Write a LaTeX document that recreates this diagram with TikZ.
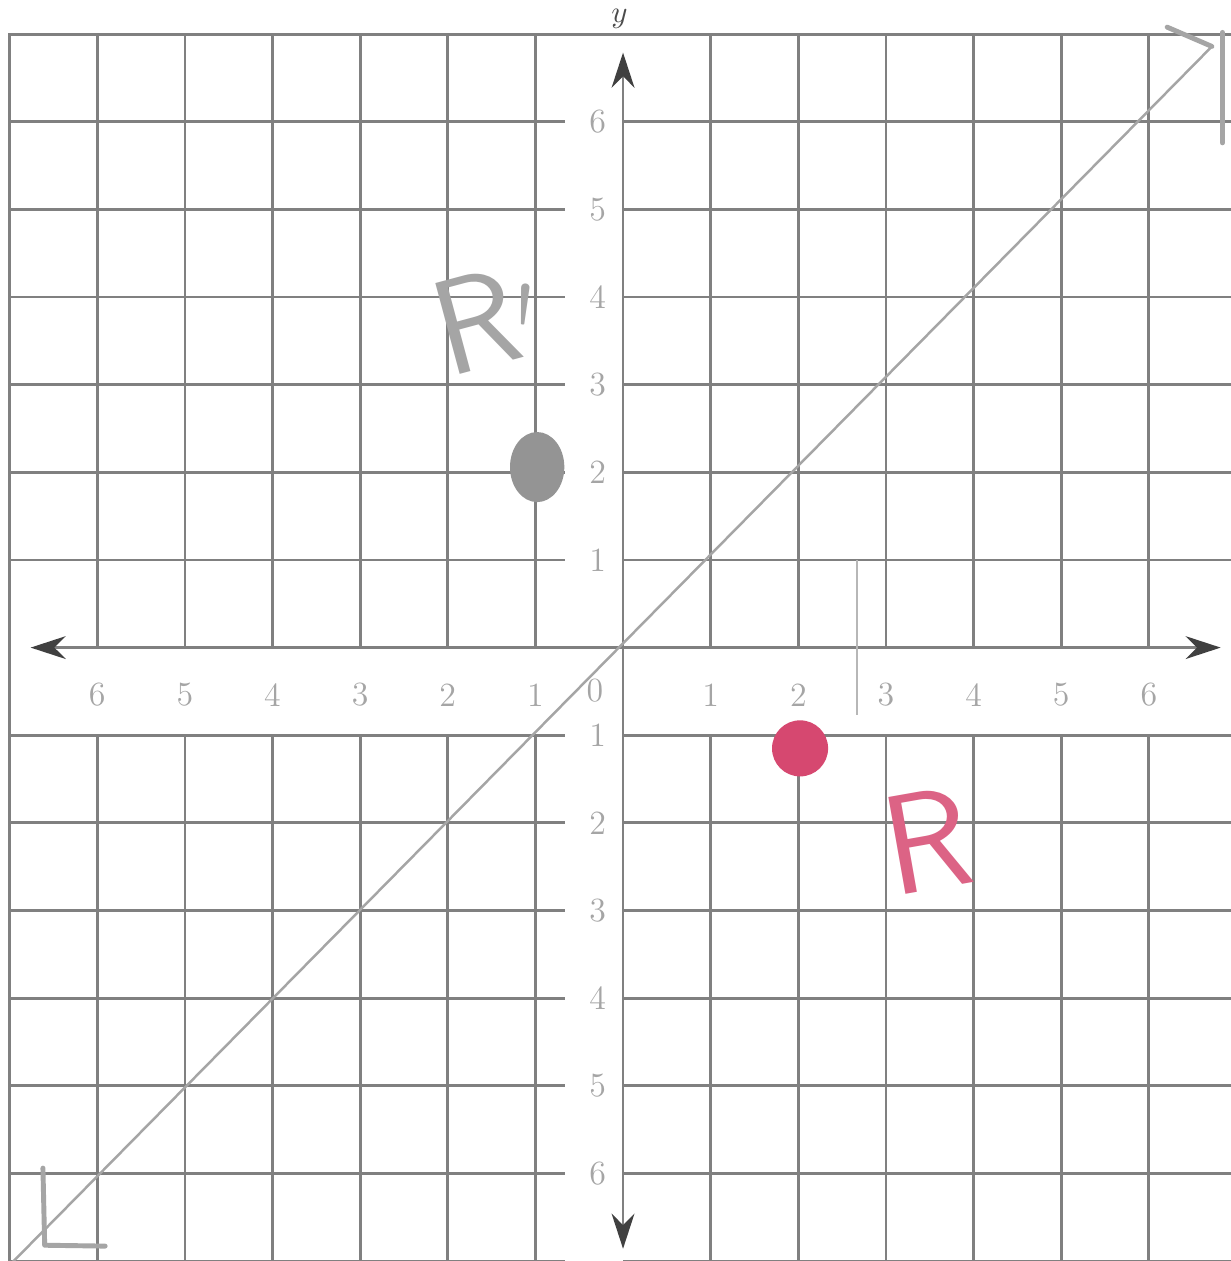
\documentclass[tikz,border=0pt]{standalone}
\usepackage{amsmath, amssymb}
\usepackage[dvipsnames]{xcolor}
\usepackage{tikz}
\usetikzlibrary{arrows.meta}

\definecolor{GridGray}{RGB}{128,128,128}
\definecolor{PencilGray}{RGB}{165,165,165}
\definecolor{InkRed}{RGB}{214,72,112}

\tikzset{
    gridline/.style={GridGray, line width=0.9pt},
    pencil/.style={PencilGray, line width=1.6pt, line cap=round, line join=round},
    ticklabel/.style={text=PencilGray, font=\fontsize{11}{13}\selectfont, inner sep=0pt},
    axistip/.style={-{Stealth[length=4mm, width=2.6mm, color=black!75]}}
}

\begin{document}
\begin{tikzpicture}
            \useasboundingbox (-7.11,-7.0) rectangle (6.93,7.39);
            \fill[white] (-7.11,-7.0) rectangle (6.93,7.39);

            % grid, with the bands for the numbers left open
            \foreach \x in {-6,...,-1,1,2,...,6} {
                \draw[gridline] (\x,7) -- (\x,0);
                \draw[gridline] (\x,-1) -- (\x,-7.1);
            }
            \foreach \y in {-7,...,-1,1,2,...,6} {
                \draw[gridline] (-7,\y) -- (-0.66,\y);
                \draw[gridline] (0,\y) -- (7,\y);
            }
            \draw[gridline] (-7,-7.1) -- (-7,7) -- (7,7);

            % axes
            \coordinate (O) at (0,0);
            \coordinate (xmin) at (-6.76,0);
            \coordinate (xmax) at (6.82,0);
            \coordinate (ymin) at (0,-6.86);
            \coordinate (ymax) at (0,6.79);
            \draw[gridline, axistip] (O) -- (xmax);
            \draw[gridline, axistip] (O) -- (xmin);
            \draw[gridline, axistip] (O) -- (ymax);
            \draw[gridline, axistip] (O) -- (ymin);
            \node[anchor=north, inner sep=0pt, text=black!70] (ylab) at (-0.04,7.29) {$y$};

            \foreach \n in {1,...,6} {
                \node[ticklabel] (xp\n) at (\n,-0.54) {\n};
                \node[ticklabel] (xn\n) at (-\n,-0.54) {\n};
                \node[ticklabel] (yp\n) at (-0.29,\n) {\n};
                \node[ticklabel] (yn\n) at (-0.29,-\n) {\n};
            }
            \node[ticklabel] (zero) at (-0.32,-0.49) {0};

            % line of reflection y = x, pencilled
            \coordinate (dlo) at (-7.2,-7.25);
            \coordinate (dhi) at (6.72,6.86);
            \draw[PencilGray, line width=0.8pt] (dlo) -- (dhi);
            \draw[pencil] (6.21,7.08) -- (6.72,6.86);
            \draw[pencil] (6.84,7.02) -- (6.84,5.76);
            \draw[pencil] (-6.62,-5.94) -- (-6.60,-6.82) -- (-5.91,-6.83);
            \draw[PencilGray!80, line width=0.8pt] (2.67,1.0) -- (2.67,-0.77);

            % the point and its image
            \fill[PencilGray!90!black] (-0.98,2.06) ellipse (0.31 and 0.40);
            \fill[InkRed] (2.02,-1.15) circle (0.32);

            \node[text=PencilGray, font=\sffamily\fontsize{44}{48}\selectfont, rotate=15] (Rimg) at (-1.55,3.75) {R$'$};
            \node[text=InkRed!85, font=\sffamily\fontsize{46}{50}\selectfont, rotate=10] (Rorig) at (3.47,-2.2) {R};
        \end{tikzpicture}
\end{document}
